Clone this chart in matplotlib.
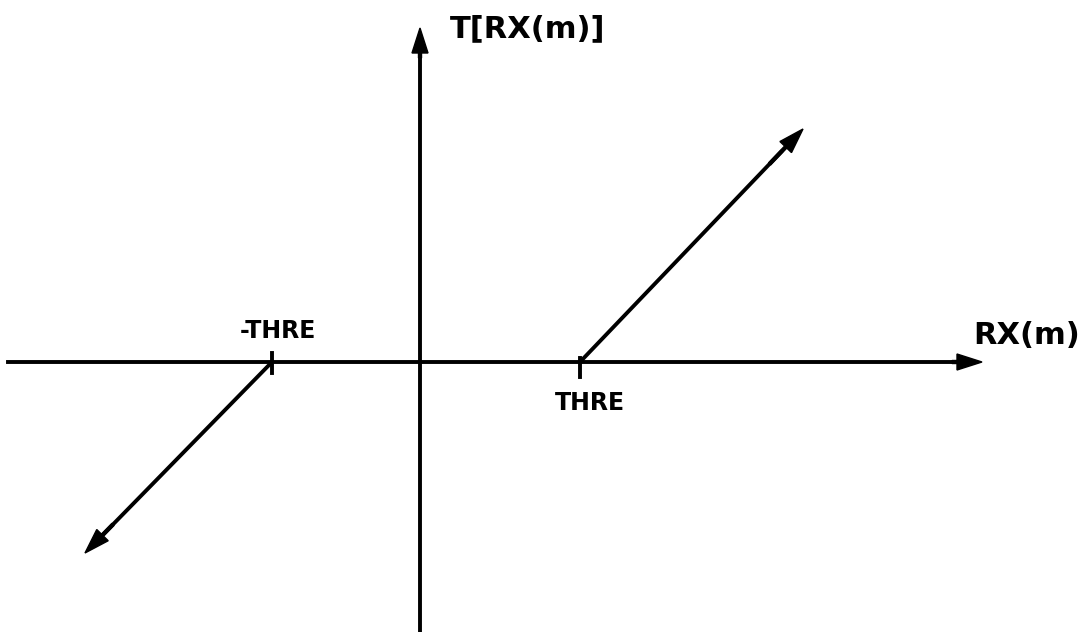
import matplotlib
matplotlib.use("Agg")
import matplotlib.pyplot as plt

# diagram units: 1 unit ~ 100 px, origin where the axes cross
x_axis = [-4.12, 5.62]
y_axis = [-2.75, 3.34]
thre_pos = 1.60
thre_neg = -1.48
right_branch = ([1.60, 3.83], [0.0, 2.33])
left_branch = ([-1.48, -3.35], [0.0, -1.91])
labels = ["T[RX(m)]", "RX(m)", "-THRE", "THRE"]

fig = plt.figure(figsize=(10.87, 6.32), dpi=100)
ax = fig.add_axes([0, 0, 1, 1])
ax.set_xlim(-4.20, 6.67)
ax.set_ylim(-2.70, 3.62)
ax.axis("off")

lw = 2.8
arrow_kw = dict(width=0.03, head_width=0.16, head_length=0.25,
                length_includes_head=True, color="black")

# axes
ax.plot([x_axis[0], x_axis[1] - 0.1], [0, 0], color="black", lw=lw)
ax.arrow(x_axis[1] - 0.3, 0, 0.3, 0, **arrow_kw)
ax.plot([0, 0], [y_axis[0], y_axis[1] - 0.1], color="black", lw=lw)
ax.arrow(0, y_axis[1] - 0.3, 0, 0.3, **arrow_kw)

# threshold ticks
ax.plot([thre_neg, thre_neg], [-0.11, 0.09], color="black", lw=lw)
ax.plot([thre_pos, thre_pos], [-0.15, 0.04], color="black", lw=lw)

# branches
for xs, ys in (right_branch, left_branch):
    ax.plot([xs[0], xs[0] + (xs[1] - xs[0]) * 0.9],
            [ys[0], ys[0] + (ys[1] - ys[0]) * 0.9], color="black", lw=lw)
    ax.arrow(xs[0] + (xs[1] - xs[0]) * 0.85, ys[0] + (ys[1] - ys[0]) * 0.85,
             (xs[1] - xs[0]) * 0.15, (ys[1] - ys[0]) * 0.15, **arrow_kw)

txt = dict(color="black", fontweight="bold", family="DejaVu Sans")
ax.text(0.30, 3.33, labels[0], fontsize=22, ha="left", va="center", **txt)
ax.text(6.07, 0.27, labels[1], fontsize=22, ha="center", va="center", **txt)
ax.text(-1.42, 0.31, labels[2], fontsize=17, ha="center", va="center", **txt)
ax.text(1.70, -0.41, labels[3], fontsize=17, ha="center", va="center", **txt)

fig.savefig("out.png", dpi=100)
